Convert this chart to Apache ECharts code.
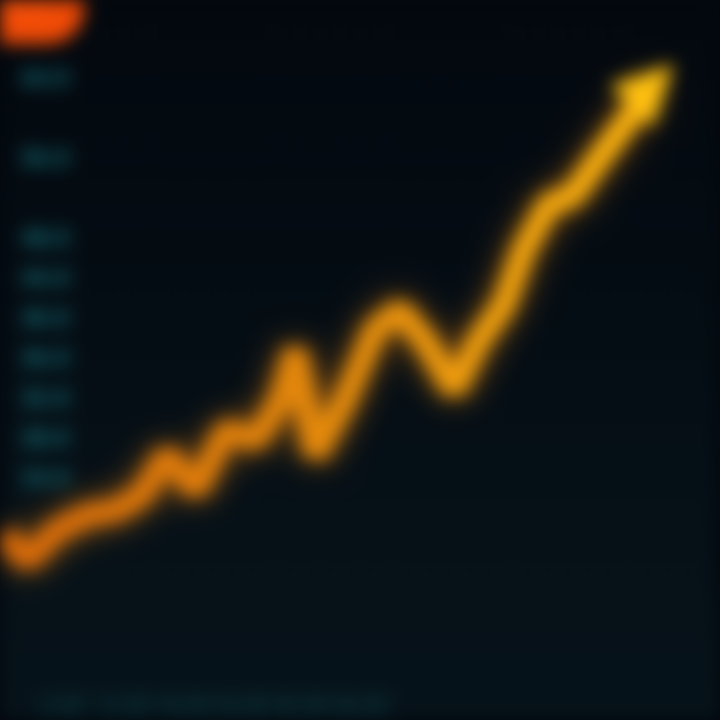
<!DOCTYPE html>
<html><head><meta charset="utf-8">
<script src="https://cdn.jsdelivr.net/npm/echarts@6/dist/echarts.min.js"></script>
<style>
html,body{margin:0;padding:0;background:#03070d;overflow:hidden}
#c{width:720px;height:720px;filter:blur(9px)}
</style></head>
<body><div id="c"></div>
<script>
// time (x) and price (y)
const days   = [0, 2.5, 5.5, 8.5, 11.5, 14, 16.5, 19.5, 22.5, 25.5, 28, 29.5, 31.5, 34.5, 37.5, 40, 42.5, 45.5, 48, 50.5, 52.5, 55, 57.5, 60, 63, 65.5];
const prices = [18.5, 16, 19, 20.5, 21, 22.5, 26.5, 23, 29, 28, 32, 37, 26.5, 32, 39, 41, 38, 33, 38, 41.5, 47, 51.5, 52.5, 56, 60, 63.5];
const yTicks = [24, 28, 32, 36, 40, 44, 48, 56, 64];
const xTicks = [6, 12, 18, 24, 30, 36];

const data = days.map((d, i) => {
  const p = { value: [d, prices[i]] };
  if (i === days.length - 1) {
    p.symbol = 'triangle'; p.symbolSize = 60; p.symbolRotate = -45;
    p.itemStyle = { color: '#ffc010' };
  }
  return p;
});

const chart = echarts.init(document.getElementById('c'));
chart.setOption({
  backgroundColor: {
    type: 'linear', x: 0, y: 0, x2: 0, y2: 1,
    colorStops: [{ offset: 0, color: '#02060c' }, { offset: 1, color: '#061219' }]
  },
  title: {
    text: 'PRICE', left: -30, top: -36,
    backgroundColor: '#f04a06', padding: [40, 32, 22, 32], borderRadius: 36,
    textStyle: { color: '#ff5a10', fontSize: 18, fontFamily: 'Roboto' }
  },
  grid: { left: 0, right: 0, top: 0, bottom: 0 },
  xAxis: {
    type: 'value', min: 0, max: 72, interval: 2,
    axisLine: { show: false }, axisTick: { show: false },
    axisLabel: { inside: true, color: '#0f5258', fontSize: 22, fontFamily: 'Roboto', margin: 2,
      formatter: v => xTicks.includes(v) ? v + '.00' : '' },
    splitLine: { lineStyle: { color: '#0b1a22', width: 1 } }
  },
  yAxis: {
    type: 'value', min: 0, max: 72, interval: 2,
    axisLine: { show: false }, axisTick: { show: false },
    axisLabel: { inside: true, color: '#167680', fontSize: 24, fontFamily: 'Roboto', fontWeight: 'bold', margin: 18,
      formatter: v => yTicks.includes(v) ? v + '.0' : '' },
    splitLine: { lineStyle: { color: '#0b1a22', width: 1 } }
  },
  series: [{
    type: 'line', data: data, smooth: false,
    symbol: 'none', showSymbol: true,
    lineStyle: {
      width: 24,
      color: {
        type: 'linear', x: 0, y: 0, x2: 1, y2: 0,
        colorStops: [{ offset: 0, color: '#d8680a' }, { offset: 0.5, color: '#e48a0c' }, { offset: 1, color: '#ffb810' }]
      },
      shadowBlur: 30, shadowColor: 'rgba(255,140,10,0.6)'
    },
    z: 5
  }]
});
</script></body></html>
